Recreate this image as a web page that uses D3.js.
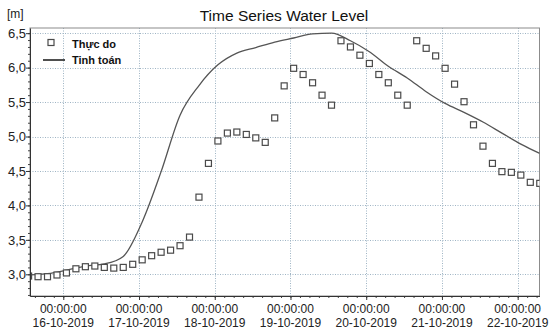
<!DOCTYPE html>
<html>
<head>
<meta charset="utf-8">
<script src="https://cdn.jsdelivr.net/npm/d3@7"></script>
<style>
  body { margin: 0; background: #fff; }
  svg { display: block; font-family: Arial, "Liberation Sans", sans-serif; }
</style>
</head>
<body>
<svg id="chart" width="558" height="335"></svg>
<script>
// observed levels, one every 3 hours from 15-10-2019 13:00
const obsStart = "2019-10-15 13:00";
const obsStepHours = 3;
const observed = [
  2.975, 2.965, 2.965, 2.99,
  3.02, 3.08, 3.11, 3.12, 3.10, 3.09, 3.10, 3.145,
  3.21, 3.27, 3.32, 3.35, 3.415, 3.54, 4.12, 4.61,
  4.935, 5.05, 5.065, 5.03, 4.98, 4.915, 5.27, 5.735,
  5.99, 5.90, 5.78, 5.60, 5.455, 6.39, 6.30, 6.18,
  6.06, 5.90, 5.78, 5.60, 5.455, 6.39, 6.28, 6.17,
  5.99, 5.76, 5.505, 5.17, 4.86, 4.61, 4.49, 4.48,
  4.44, 4.335, 4.32
];

// simulated levels, one every 6 hours from 15-10-2019 13:00
const simStart = "2019-10-15 13:00";
const simStepHours = 6;
const simulated = [
  2.99, 3.01, 3.06, 3.12, 3.15, 3.26, 3.76, 4.49,
  5.31, 5.74, 6.04, 6.21, 6.29, 6.37, 6.43, 6.49,
  6.50, 6.39, 6.23, 6.02, 5.85, 5.65, 5.48, 5.35,
  5.21, 5.05, 4.89, 4.755
];

const yTicks = [3.0, 3.5, 4.0, 4.5, 5.0, 5.5, 6.0, 6.5];
const dayTicks = ["2019-10-16", "2019-10-17", "2019-10-18", "2019-10-19",
                  "2019-10-20", "2019-10-21", "2019-10-22"];
const legendLabels = ["Thực do", "Tinh toán"];

const parseT = d3.timeParse("%Y-%m-%d %H:%M");
const parseD = d3.timeParse("%Y-%m-%d");

const obsData = observed.map((v, i) => ({t: d3.timeHour.offset(parseT(obsStart), i * obsStepHours), v: v}));
const simData = simulated.map((v, i) => ({t: d3.timeHour.offset(parseT(simStart), i * simStepHours), v: v}));
const days = dayTicks.map(parseD);

const pL = 30, pR = 539.5, pT = 28, pB = 296;

const x = d3.scaleTime()
  .domain([parseT("2019-10-15 13:27"), parseT("2019-10-22 06:55")])
  .range([pL, pR]);
const y = d3.scaleLinear()
  .domain([2.685, 6.575])
  .range([pB, pT]);

const svg = d3.select("#chart");

svg.append("clipPath").attr("id", "plot")
  .append("rect")
  .attr("x", pL).attr("y", pT)
  .attr("width", pR - pL).attr("height", pB - pT);

// grid
const grid = svg.append("g")
  .attr("stroke", "#9fb4c4")
  .attr("stroke-width", 1)
  .attr("stroke-dasharray", "1,1.5");
grid.selectAll(".gx").data(days).enter().append("line")
  .attr("x1", d => Math.round(x(d)) + 0.5).attr("x2", d => Math.round(x(d)) + 0.5)
  .attr("y1", pT).attr("y2", pB);
grid.selectAll(".gy").data(yTicks).enter().append("line")
  .attr("x1", pL).attr("x2", pR)
  .attr("y1", d => Math.round(y(d)) + 0.5).attr("y2", d => Math.round(y(d)) + 0.5);

// frame
svg.append("rect")
  .attr("x", pL).attr("y", pT)
  .attr("width", pR - pL).attr("height", pB - pT)
  .attr("fill", "none").attr("stroke", "#8c8c8c");

// simulated line
svg.append("path")
  .datum(simData)
  .attr("clip-path", "url(#plot)")
  .attr("fill", "none")
  .attr("stroke", "#555")
  .attr("stroke-width", 1.3)
  .attr("d", d3.line().x(d => x(d.t)).y(d => y(d.v)).curve(d3.curveMonotoneX));

// observed squares
svg.append("g").attr("clip-path", "url(#plot)")
  .selectAll("rect").data(obsData).enter().append("rect")
  .attr("x", d => x(d.t) - 3).attr("y", d => y(d.v) - 3)
  .attr("width", 6).attr("height", 6)
  .attr("fill", "#fff").attr("stroke", "#4a4a4a").attr("stroke-width", 1.2);

// axes
const minorY = d3.range(27, 66).map(d => d / 10);
svg.append("g").attr("transform", `translate(${pL},0)`)
  .call(d3.axisLeft(y).tickValues(minorY).tickSize(2).tickFormat(""))
  .call(g => g.select(".domain").remove())
  .selectAll("line").attr("stroke", "#444");
svg.append("g").attr("transform", `translate(${pL},0)`)
  .call(d3.axisLeft(y).tickValues(yTicks).tickSize(4).tickSizeOuter(0)
    .tickFormat(d => d3.format(".1f")(d).replace(".", ",")))
  .call(g => g.select(".domain").attr("stroke", "#333"))
  .call(g => g.selectAll("line").attr("stroke", "#333"))
  .call(g => g.selectAll("text").attr("font-size", 13).attr("fill", "#222")
    .attr("font-family", "Arial, 'Liberation Sans', sans-serif").attr("x", -4));

const minorX = d3.timeHour.every(3).range(x.domain()[0], x.domain()[1]);
svg.append("g").attr("transform", `translate(0,${pB})`)
  .call(d3.axisBottom(x).tickValues(minorX).tickSize(2).tickFormat(""))
  .call(g => g.select(".domain").remove())
  .selectAll("line").attr("stroke", "#444");
svg.append("g").attr("transform", `translate(0,${pB})`)
  .call(d3.axisBottom(x).tickValues(days).tickSize(4).tickSizeOuter(0).tickFormat(""))
  .call(g => g.select(".domain").attr("stroke", "#333"))
  .call(g => g.selectAll("line").attr("stroke", "#333"));

// two-line date labels under each day tick
const fmtDay = d3.timeFormat("%d-%m-%Y");
const lab = svg.append("g").attr("fill", "#222").attr("font-size", 12).attr("text-anchor", "middle");
lab.selectAll("text").data(days).enter().append("text")
  .attr("x", d => x(d)).attr("y", 313)
  .call(t => t.append("tspan").attr("x", d => x(d)).text("00:00:00"))
  .call(t => t.append("tspan").attr("x", d => x(d)).attr("dy", 13.5).text(d => fmtDay(d)));

// title and unit
svg.append("text").attr("x", 284).attr("y", 21).attr("text-anchor", "middle")
  .attr("font-size", 15.5).attr("fill", "#111").text("Time Series Water Level");
svg.append("text").attr("x", 7).attr("y", 18)
  .attr("font-size", 12).attr("fill", "#222").text("[m]");

// legend
const lg = svg.append("g");
lg.append("rect").attr("x", 48).attr("y", 39.5).attr("width", 6).attr("height", 6)
  .attr("fill", "#fff").attr("stroke", "#4a4a4a").attr("stroke-width", 1.2);
lg.append("line").attr("x1", 43).attr("x2", 65).attr("y1", 60).attr("y2", 60)
  .attr("stroke", "#222").attr("stroke-width", 1.6);
lg.selectAll("text").data(legendLabels).enter().append("text")
  .attr("x", 72).attr("y", (d, i) => 48 + i * 16)
  .attr("font-size", 11).attr("font-weight", "bold").attr("fill", "#111")
  .text(d => d);
</script>
</body>
</html>
